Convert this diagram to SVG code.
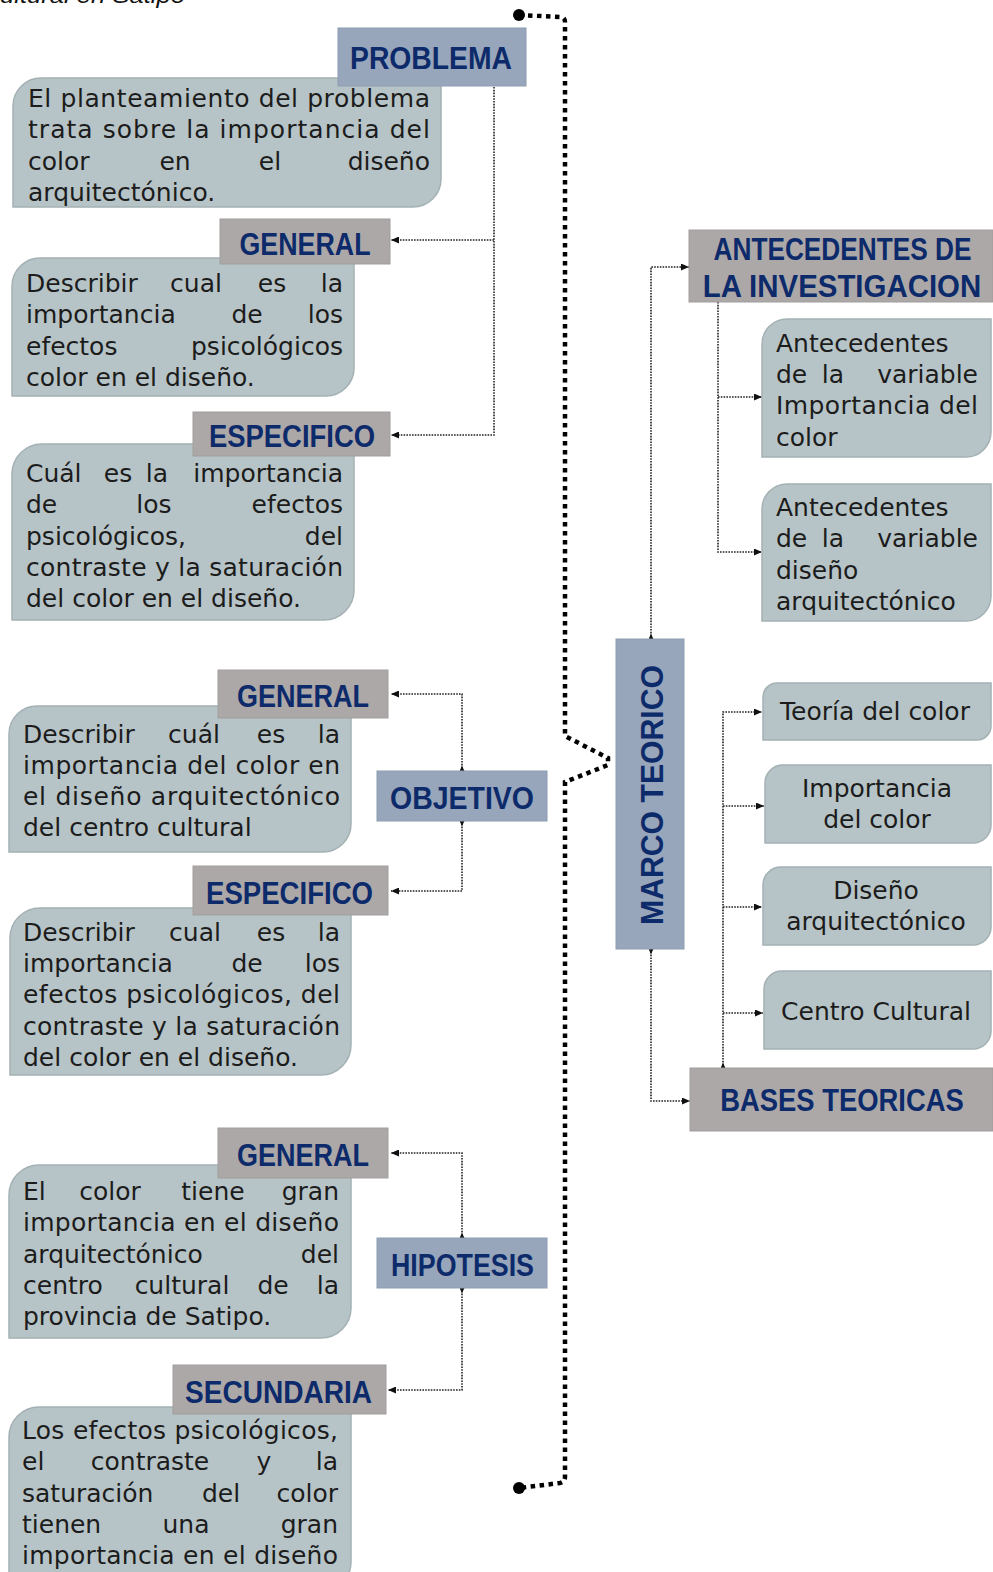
<svg xmlns="http://www.w3.org/2000/svg" width="993" height="1572" viewBox="0 0 993 1572">
<defs>
<style>
.t{font-family:"DejaVu Sans","Liberation Sans",sans-serif;font-size:25px;fill:#1c1c1c}
.h{font-family:"Liberation Sans",Arial,sans-serif;font-weight:bold;font-size:32px;fill:#0d2a6b;text-anchor:middle}
.bx{fill:#b7c4c7;stroke:#a4b1b4;stroke-width:1.5}
.hb{fill:#97a6ba;stroke:#8d9db1;stroke-width:1}
.hg{fill:#aca8a8;stroke:#a19d9d;stroke-width:1}
.c{fill:none;stroke:#222;stroke-width:1.6;stroke-dasharray:1.6 1.2}
.k{fill:none;stroke:#000;stroke-width:4.5;stroke-dasharray:4.5 4.5}
.m{text-anchor:middle}
.e{text-anchor:end}
</style>
<marker id="a" viewBox="0 0 8 7" refX="8" refY="3.5" markerWidth="8" markerHeight="7" markerUnits="userSpaceOnUse" orient="auto"><path d="M0,0 L8,3.5 L0,7z" fill="#111"/></marker>
<marker id="s" viewBox="0 0 5 5" refX="0" refY="2.5" markerWidth="5" markerHeight="5" markerUnits="userSpaceOnUse" orient="auto"><path d="M0,0 L5,2.5 L0,5z" fill="#111"/></marker>
</defs>
<rect width="993" height="1572" fill="#fff"/>
<text x="0" y="3" font-family="Liberation Sans, Arial, sans-serif" font-style="italic" font-size="22" fill="#111" textLength="185" lengthAdjust="spacingAndGlyphs">ultural en Satipo</text>

<g id="connectors">
<path class="k" d="M519,15 L560,17 Q565,17 565,22 V736 L608,758 V765 L565,782 V1477 Q565,1482 560,1483 L519,1488"/>
<circle cx="519" cy="15" r="6" fill="#000"/>
<circle cx="519" cy="1488" r="6" fill="#000"/>
<path class="c" d="M494,87 V435 H391" marker-end="url(#a)"/>
<path class="c" d="M494,240 H391" marker-end="url(#a)"/>
<path class="c" d="M462,771 V694 H391" marker-start="url(#s)" marker-end="url(#a)"/>
<path class="c" d="M462,821 V891 H391" marker-start="url(#s)" marker-end="url(#a)"/>
<path class="c" d="M462,1238 V1153 H391" marker-start="url(#s)" marker-end="url(#a)"/>
<path class="c" d="M462,1288 V1390 H388" marker-start="url(#s)" marker-end="url(#a)"/>
<path class="c" d="M651,639 V267 H689" marker-start="url(#s)" marker-end="url(#a)"/>
<path class="c" d="M651,949 V1101 H690" marker-start="url(#s)" marker-end="url(#a)"/>
<path class="c" d="M718,302 V552 H762" marker-end="url(#a)"/>
<path class="c" d="M718,397 H762" marker-end="url(#a)"/>
<path class="c" d="M723,1068 V712 H762" marker-start="url(#s)" marker-end="url(#a)"/>
<path class="c" d="M723,806 H764" marker-end="url(#a)"/>
<path class="c" d="M723,907 H762" marker-end="url(#a)"/>
<path class="c" d="M723,1013 H763" marker-end="url(#a)"/>
</g>

<g id="problema-texto">
<path class="bx" d="M13,106 A28,28 0 0 1 41,78 H441 V179 A28,28 0 0 1 413,207 H13 Z"/>
<text class="t" x="28" y="107" textLength="402" lengthAdjust="spacing">El planteamiento del problema</text>
<text class="t" x="28" y="138" textLength="402" lengthAdjust="spacing">trata sobre la importancia del</text>
<text class="t" y="170"><tspan x="28">color</tspan><tspan class="m" x="175">en</tspan><tspan class="m" x="270">el</tspan><tspan class="e" x="430">diseño</tspan></text>
<text class="t" x="28" y="201">arquitectónico.</text>
</g>
<g id="problema"><rect class="hb" x="338" y="28" width="188" height="58"/><text class="h" x="431" y="69" font-size="33" textLength="162" lengthAdjust="spacingAndGlyphs">PROBLEMA</text></g>

<g id="prob-general-texto">
<path class="bx" d="M12,286 A28,28 0 0 1 40,258 H354 V368 A28,28 0 0 1 326,396 H12 Z"/>
<text class="t" y="292"><tspan x="26">Describir</tspan><tspan class="m" x="196">cual</tspan><tspan class="m" x="272">es</tspan><tspan class="e" x="343">la</tspan></text>
<text class="t" y="323"><tspan x="26">importancia</tspan><tspan class="m" x="247">de</tspan><tspan class="e" x="343">los</tspan></text>
<text class="t" y="355"><tspan x="26">efectos</tspan><tspan class="e" x="343">psicológicos</tspan></text>
<text class="t" x="26" y="386">color en el diseño.</text>
</g>
<g id="prob-general"><rect class="hg" x="220" y="219" width="170" height="45"/><text class="h" x="305" y="255" font-size="31" textLength="131" lengthAdjust="spacingAndGlyphs">GENERAL</text></g>

<g id="prob-especifico-texto">
<path class="bx" d="M12,474 A30,30 0 0 1 42,444 H354 V590 A30,30 0 0 1 324,620 H12 Z"/>
<text class="t" y="482"><tspan x="26">Cuál</tspan><tspan class="m" x="118">es</tspan><tspan class="m" x="157">la</tspan><tspan class="e" x="343">importancia</tspan></text>
<text class="t" y="513"><tspan x="26">de</tspan><tspan class="m" x="154">los</tspan><tspan class="e" x="343">efectos</tspan></text>
<text class="t" y="545"><tspan x="26">psicológicos,</tspan><tspan class="e" x="343">del</tspan></text>
<text class="t" x="26" y="576" textLength="317" lengthAdjust="spacing">contraste y la saturación</text>
<text class="t" x="26" y="607">del color en el diseño.</text>
</g>
<g id="prob-especifico"><rect class="hg" x="193" y="412" width="197" height="44"/><text class="h" x="292" y="447" font-size="31" textLength="166" lengthAdjust="spacingAndGlyphs">ESPECIFICO</text></g>

<g id="obj-general-texto">
<path class="bx" d="M9,734 A28,28 0 0 1 37,706 H351 V824 A28,28 0 0 1 323,852 H9 Z"/>
<text class="t" y="743"><tspan x="23">Describir</tspan><tspan class="m" x="194">cuál</tspan><tspan class="m" x="271">es</tspan><tspan class="e" x="340">la</tspan></text>
<text class="t" x="23" y="774" textLength="317" lengthAdjust="spacing">importancia del color en</text>
<text class="t" x="23" y="805" textLength="317" lengthAdjust="spacing">el diseño arquitectónico</text>
<text class="t" x="23" y="836">del centro cultural</text>
</g>
<g id="obj-general"><rect class="hg" x="218" y="670" width="170" height="48"/><text class="h" x="303" y="707" font-size="31" textLength="132" lengthAdjust="spacingAndGlyphs">GENERAL</text></g>

<g id="objetivo"><rect class="hb" x="377" y="771" width="170" height="50"/><text class="h" x="462" y="809" font-size="32" textLength="144" lengthAdjust="spacingAndGlyphs">OBJETIVO</text></g>

<g id="obj-especifico-texto">
<path class="bx" d="M10,938 A30,30 0 0 1 40,908 H351 V1045 A30,30 0 0 1 321,1075 H10 Z"/>
<text class="t" y="941"><tspan x="23">Describir</tspan><tspan class="m" x="195">cual</tspan><tspan class="m" x="271">es</tspan><tspan class="e" x="340">la</tspan></text>
<text class="t" y="972"><tspan x="23">importancia</tspan><tspan class="m" x="247">de</tspan><tspan class="e" x="340">los</tspan></text>
<text class="t" x="23" y="1003" textLength="317" lengthAdjust="spacing">efectos psicológicos, del</text>
<text class="t" x="23" y="1035" textLength="317" lengthAdjust="spacing">contraste y la saturación</text>
<text class="t" x="23" y="1066">del color en el diseño.</text>
</g>
<g id="obj-especifico"><rect class="hg" x="193" y="866" width="195" height="49"/><text class="h" x="289.5" y="904" font-size="31" textLength="167" lengthAdjust="spacingAndGlyphs">ESPECIFICO</text></g>

<g id="hip-general-texto">
<path class="bx" d="M9,1195 A30,30 0 0 1 39,1165 H351 V1308 A30,30 0 0 1 321,1338 H9 Z"/>
<text class="t" y="1200"><tspan x="23">El</tspan><tspan class="m" x="110">color</tspan><tspan class="m" x="213">tiene</tspan><tspan class="e" x="339">gran</tspan></text>
<text class="t" x="23" y="1231" textLength="316" lengthAdjust="spacing">importancia en el diseño</text>
<text class="t" y="1263"><tspan x="23">arquitectónico</tspan><tspan class="e" x="339">del</tspan></text>
<text class="t" y="1294"><tspan x="23">centro</tspan><tspan class="m" x="182">cultural</tspan><tspan class="m" x="273">de</tspan><tspan class="e" x="339">la</tspan></text>
<text class="t" x="23" y="1325">provincia de Satipo.</text>
</g>
<g id="hip-general"><rect class="hg" x="218" y="1128" width="170" height="50"/><text class="h" x="303" y="1166" font-size="31" textLength="132" lengthAdjust="spacingAndGlyphs">GENERAL</text></g>

<g id="hipotesis"><rect class="hb" x="377" y="1238" width="170" height="50"/><text class="h" x="462.5" y="1276" font-size="32" textLength="143" lengthAdjust="spacingAndGlyphs">HIPOTESIS</text></g>

<g id="hip-secundaria-texto">
<path class="bx" d="M9,1437 A30,30 0 0 1 39,1407 H351 V1562 A30,30 0 0 1 321,1592 H9 Z"/>
<text class="t" x="22" y="1439" textLength="316" lengthAdjust="spacing">Los efectos psicológicos,</text>
<text class="t" y="1470"><tspan x="22">el</tspan><tspan class="m" x="150">contraste</tspan><tspan class="m" x="264">y</tspan><tspan class="e" x="338">la</tspan></text>
<text class="t" y="1502"><tspan x="22">saturación</tspan><tspan class="m" x="221">del</tspan><tspan class="e" x="338">color</tspan></text>
<text class="t" y="1533"><tspan x="22">tienen</tspan><tspan class="m" x="186">una</tspan><tspan class="e" x="338">gran</tspan></text>
<text class="t" x="22" y="1564" textLength="316" lengthAdjust="spacing">importancia en el diseño</text>
</g>
<g id="hip-secundaria"><rect class="hg" x="173" y="1365" width="213" height="49"/><text class="h" x="278.5" y="1403" font-size="31" textLength="187" lengthAdjust="spacingAndGlyphs">SECUNDARIA</text></g>

<g id="antecedentes"><rect class="hg" x="689" y="230" width="304" height="72"/>
<text class="h" transform="translate(842.5,260) scale(0.82,1)" x="0" y="0" font-size="31">ANTECEDENTES DE</text>
<text class="h" transform="translate(842,297) scale(0.92,1)" x="0" y="0" font-size="31">LA INVESTIGACION</text></g>

<g id="ant-importancia">
<path class="bx" d="M762,344 A25,25 0 0 1 787,319 H991 V432 A25,25 0 0 1 966,457 H762 Z"/>
<text class="t" x="776" y="352">Antecedentes</text>
<text class="t" y="383"><tspan x="776">de</tspan><tspan class="m" x="833">la</tspan><tspan class="e" x="978">variable</tspan></text>
<text class="t" x="776" y="414" textLength="202" lengthAdjust="spacing">Importancia del</text>
<text class="t" x="776" y="446">color</text>
</g>
<g id="ant-diseno">
<path class="bx" d="M762,509 A25,25 0 0 1 787,484 H991 V596 A25,25 0 0 1 966,621 H762 Z"/>
<text class="t" x="776" y="516">Antecedentes</text>
<text class="t" y="547"><tspan x="776">de</tspan><tspan class="m" x="833">la</tspan><tspan class="e" x="978">variable</tspan></text>
<text class="t" x="776" y="579">diseño</text>
<text class="t" x="776" y="610">arquitectónico</text>
</g>

<g id="marco-teorico"><rect class="hb" x="616" y="639" width="68" height="310"/>
<text class="h" transform="translate(663,795) rotate(-90)" x="0" y="0" font-size="34" textLength="260" lengthAdjust="spacingAndGlyphs">MARCO TEORICO</text></g>

<g id="teoria-color">
<path class="bx" d="M763,697 A14,14 0 0 1 777,683 H991 V726 A14,14 0 0 1 977,740 H763 Z"/>
<text class="t m" x="875" y="720">Teoría del color</text>
</g>
<g id="importancia-color">
<path class="bx" d="M765,783 A18,18 0 0 1 783,765 H991 V825 A18,18 0 0 1 973,843 H765 Z"/>
<text class="t m" x="877" y="797">Importancia</text>
<text class="t m" x="877" y="828">del color</text>
</g>
<g id="diseno-arq">
<path class="bx" d="M763,885 A18,18 0 0 1 781,867 H991 V927 A18,18 0 0 1 973,945 H763 Z"/>
<text class="t m" x="876" y="899">Diseño</text>
<text class="t m" x="876" y="930">arquitectónico</text>
</g>
<g id="centro-cultural">
<path class="bx" d="M764,989 A18,18 0 0 1 782,971 H991 V1031 A18,18 0 0 1 973,1049 H764 Z"/>
<text class="t m" x="876" y="1020">Centro Cultural</text>
</g>

<g id="bases-teoricas"><rect class="hg" x="690" y="1068" width="303" height="63"/>
<text class="h" transform="translate(842,1111) scale(0.856,1)" x="0" y="0" font-size="31">BASES TEORICAS</text></g>
</svg>
